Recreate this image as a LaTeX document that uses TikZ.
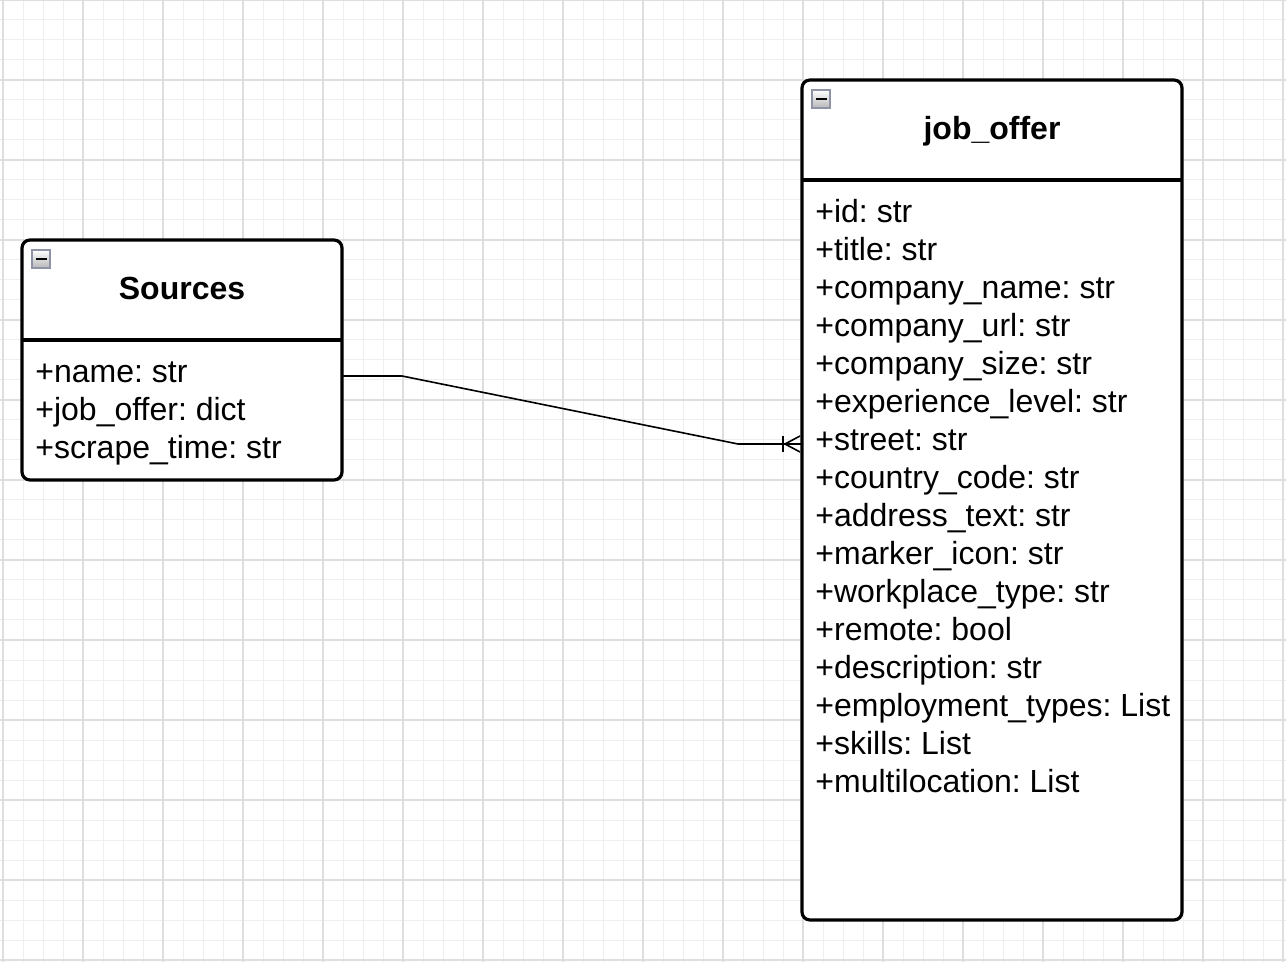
\documentclass[tikz,border=0pt]{standalone}
\usepackage{fontspec}
\setmainfont{Liberation Sans}
\usetikzlibrary{calc}
\definecolor{gridminor}{HTML}{EFEFEF}
\definecolor{gridmajor}{HTML}{DEDEDE}
\definecolor{iconborder}{HTML}{8E94A6}
\frenchspacing
\begin{document}
\begin{tikzpicture}[x=0.5pt,y=-0.5pt,
  umlbox/.style={draw, line width=1.6pt, rounded corners=4pt, fill=white, outer sep=0pt, inner sep=0pt},
  boxtitle/.style={font=\fontsize{16}{19}\bfseries\selectfont, anchor=base, inner sep=0pt},
  attr/.style={font=\fontsize{16}{19}\selectfont, anchor=base west, inner sep=0pt},
  sepline/.style={line width=1.6pt},
  conn/.style={line width=0.8pt},
  umlicon/.style={draw=iconborder, line width=0.7pt, top color=white, bottom color=black!28, minimum size=9pt, inner sep=0pt, outer sep=0pt},
  iconbar/.style={line width=1.4pt},
  minorline/.style={draw=gridminor, line width=0.5pt},
  majorline/.style={draw=gridmajor, line width=0.6pt},
]
\fill[white] (0,0) rectangle (1286,962);
\useasboundingbox (0,0) rectangle (1286,962);
% grid
\foreach \x in {3,23,...,1283} \draw[minorline] (\x,0) -- (\x,962);
\foreach \y in {0,20,...,960} \draw[minorline] (0,\y) -- (1286,\y);
\foreach \x in {3,83,...,1283} \draw[majorline] (\x,0) -- (\x,962);
\foreach \y in {0,80,...,960} \draw[majorline] (0,\y) -- (1286,\y);

% Sources box
\node[umlbox, minimum width=160pt, minimum height=120pt] (sources) at (182,360) {};
\draw[sepline] ([yshift=-50pt]sources.north west) -- ([yshift=-50pt]sources.north east);
\node[umlicon, anchor=north west] (sicon) at (32,250) {};
\draw[iconbar] ([xshift=2pt]sicon.west) -- ([xshift=-1.6pt]sicon.east);
\node[boxtitle] (stitle) at (182,300) {Sources};
\node[attr] (s1) at (35,382.5) {+name: str};
\node[attr] (s2) at (35,420.5) {+job\_offer: dict};
\node[attr] (s3) at (35,458.5) {+scrape\_time: str};

% job_offer box
\node[umlbox, minimum width=190pt, minimum height=420pt] (joboffer) at (992,500) {};
\draw[sepline] ([yshift=-50pt]joboffer.north west) -- ([yshift=-50pt]joboffer.north east);
\node[umlicon, anchor=north west] (jicon) at (812,90) {};
\draw[iconbar] ([xshift=2pt]jicon.west) -- ([xshift=-1.6pt]jicon.east);
\node[boxtitle] (jtitle) at (992,140) {job\_offer};
\node[attr] (j1) at (815,222.5) {+id: str};
\node[attr] (j2) at (815,260.5) {+title: str};
\node[attr] (j3) at (815,298.5) {+company\_name: str};
\node[attr] (j4) at (815,336.5) {+company\_url: str};
\node[attr] (j5) at (815,374.5) {+company\_size: str};
\node[attr] (j6) at (815,412.5) {+experience\_level: str};
\node[attr] (j7) at (815,450.5) {+street: str};
\node[attr] (j8) at (815,488.5) {+country\_code: str};
\node[attr] (j9) at (815,526.5) {+address\_text: str};
\node[attr] (j10) at (815,564.5) {+marker\_icon: str};
\node[attr] (j11) at (815,602.5) {+workplace\_type: str};
\node[attr] (j12) at (815,640.5) {+remote: bool};
\node[attr] (j13) at (815,678.5) {+description: str};
\node[attr] (j14) at (815,716.5) {+employment\_types: List};
\node[attr] (j15) at (815,754.5) {+skills: List};
\node[attr] (j16) at (815,792.5) {+multilocation: List};

% connector (one-to-many)
\coordinate (cstart) at ([yshift=-8pt]sources.east);
\coordinate (cend) at ([yshift=28pt]joboffer.west);
\draw[conn] (cstart) -- ++(60,0) -- ($(cend)+(-64,0)$) -- (cend);
\draw[conn] ($(cend)+(-19,-8)$) -- ($(cend)+(-19,8)$);
\draw[conn] ($(cend)+(-2,-8)$) -- ($(cend)+(-17,0)$) -- ($(cend)+(-2,8)$);
\end{tikzpicture}
\end{document}
